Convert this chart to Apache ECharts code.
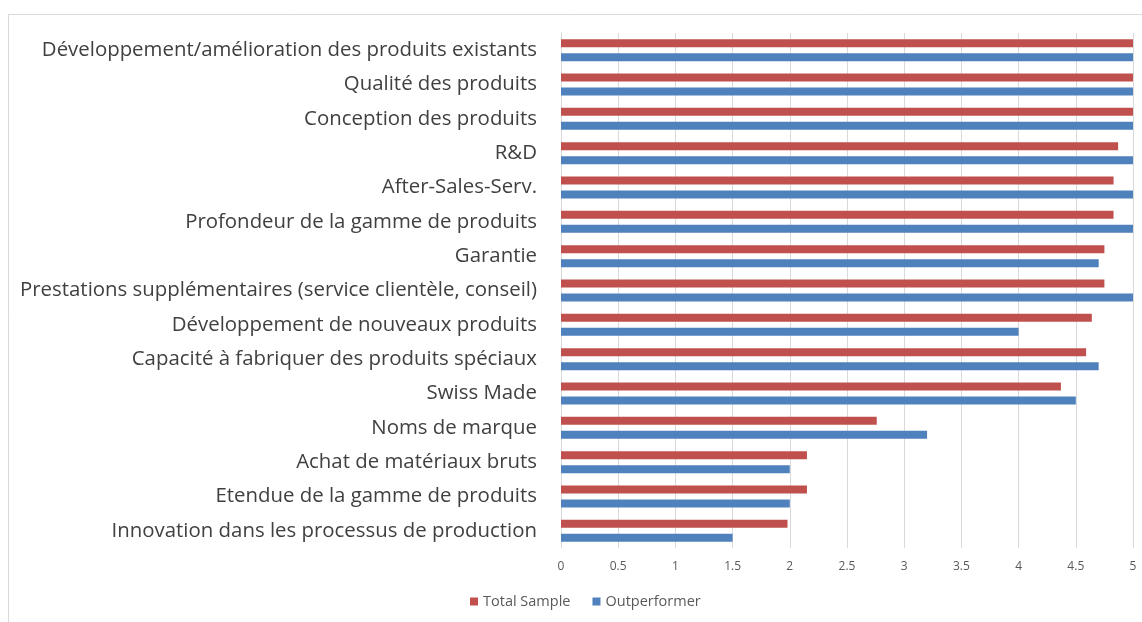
<!DOCTYPE html>
<html><head><meta charset="utf-8">
<script src="https://cdn.jsdelivr.net/npm/echarts@6/dist/echarts.min.js"></script>
<style>html,body{margin:0;padding:0;background:#fff}#c{width:1142px;height:622px}</style>
</head><body><div id="c"></div>
<script>
const categories = [
  "Développement/amélioration des produits existants",
  "Qualité des produits",
  "Conception des produits",
  "R&D",
  "After-Sales-Serv.",
  "Profondeur de la gamme de produits",
  "Garantie",
  "Prestations supplémentaires (service clientèle, conseil)",
  "Développement de nouveaux produits",
  "Capacité à fabriquer des produits spéciaux",
  "Swiss Made",
  "Noms de marque",
  "Achat de matériaux bruts",
  "Etendue de la gamme de produits",
  "Innovation dans les processus de production"
];
const totalSample = [5, 5, 5, 4.87, 4.83, 4.83, 4.75, 4.75, 4.64, 4.59, 4.37, 2.76, 2.15, 2.15, 1.98];
const outperformer = [5, 5, 5, 5, 5, 5, 4.7, 5, 4.0, 4.7, 4.5, 3.2, 2.0, 2.0, 1.5];
const xTicks = {min: 0, max: 5, interval: 0.5};

const chart = echarts.init(document.getElementById('c'));
chart.setOption({
  animation: false,
  graphic: [{type: 'rect', shape: {x: 8.5, y: 14.5, width: 1160, height: 640}, style: {fill: 'none', stroke: '#d9d9d9', lineWidth: 1}, silent: true}],
  grid: {left: 561, right: 9, top: 33, bottom: 74, containLabel: false},
  legend: {
    bottom: 8, left: 465, itemWidth: 8, itemHeight: 8, itemGap: 22, icon: 'rect',
    textStyle: {color: '#595959', fontSize: 14.5, fontFamily: 'Open Sans'},
    data: ['Total Sample', 'Outperformer']
  },
  xAxis: {
    type: 'value', min: xTicks.min, max: xTicks.max, interval: xTicks.interval,
    axisLine: {show: false}, axisTick: {show: false},
    splitLine: {lineStyle: {color: '#d9d9d9', width: 1}},
    axisLabel: {color: '#595959', fontSize: 12, fontFamily: 'Open Sans', margin: 13,
      formatter: v => String(v)}
  },
  yAxis: {
    type: 'category', data: categories, inverse: true,
    axisLine: {show: true, lineStyle: {color: '#d9d9d9'}}, axisTick: {show: false},
    axisLabel: {color: '#404040', fontSize: 20.4, fontFamily: 'Open Sans', margin: 24}
  },
  series: [
    {name: 'Total Sample', type: 'bar', data: totalSample, barWidth: 8, barGap: '75%',
      itemStyle: {color: '#C0504D'}},
    {name: 'Outperformer', type: 'bar', data: outperformer, barWidth: 8,
      itemStyle: {color: '#4F81BD'}}
  ]
});
</script></body></html>
